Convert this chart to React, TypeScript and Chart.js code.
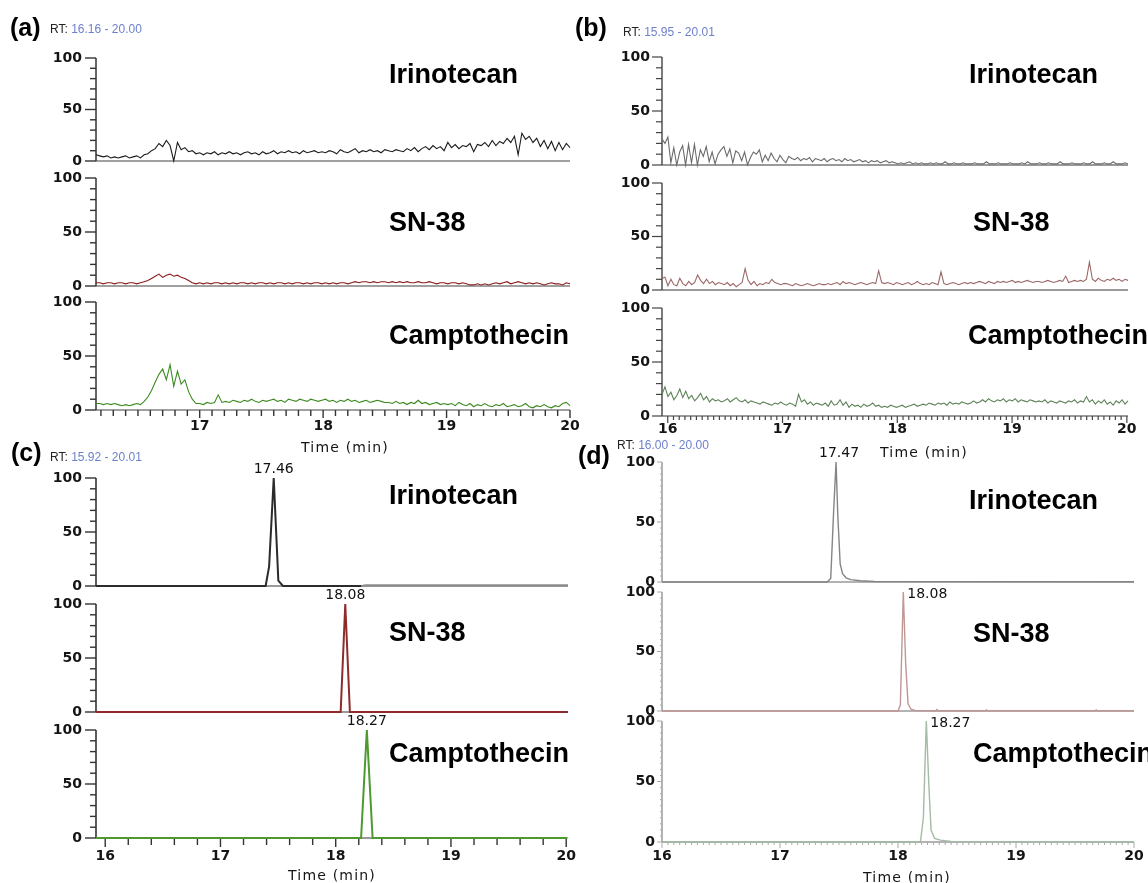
import React, { useEffect, useRef } from "react";
import { Chart, registerables } from "chart.js";
Chart.register(...registerables);

// ---------------- data ----------------
const COMPOUNDS = ["Irinotecan", "SN-38", "Camptothecin"];
const X_TICK_LABELS = [16, 17, 18, 19, 20];
const Y_TICK_LABELS = [0, 50, 100];

// (a) RT 16.16 - 20.00, evenly sampled
const A_IRI = [6,5,4,5,3,4,3,4,5,3,4,5,3,6, 7,10,12,17,14,20,15,0,18,11,13,9,10,7,
  8,6,8,7,9,6,8,7,9,7,8,6,8,9,7,8,6,9,7,8,10,7,9,8,10,8,9,7,10,8,9,10,8,9,8,10,9,7,11,9,8,
  10,12,8,10,9,11,9,10,8,11,10,9,11,10,9,12,10,13,9,12,14,11,15,12,14,10,
  18,13,16,12,15,14,17,9,16,15,18,14,20,15,19,17,22,18,24,6,27,21,24,18,22,14,20,12,19,10,18,11,17,13];
const A_SN38 = [3,3,2,3,3,2,3,3,2,3,3,2,3,4, 5,7,9,11,8,10,11,9,10,8,7,5,
  3,2,3,2,3,2,3,3,2,3,2,3,2,3,3,2,3,2,3,3,2,3,2,3,3,2,3,2,3,3,2,3,2,3,3,2,3,2,3,2,3,3,2,
  3,4,3,4,4,3,4,3,4,4,3,4,3,4,3,4,3,3,4,3,3,4, 3,2,3,3,2,3,3,2,3,2, 1,1,2,1,2,1,
  2,3,2,3,4,2,3,4,3,2,3,2,3,2,1,2,3,2,2,1,3,2];
const A_CPT = [6,6,5,6,5,6,5,4,5,4,5,6,5,
  8,12,18,26,33,38,28,42,22,36,24,28,17,10,6,6,5,7,6,7,14,7,
  8,7,9,8,7,9,8,10,8,7,9,8,9,10,8,9,7,10,9,8,10,9,8,10,9,8,9,10,8,9,7,9,8,10,8,9,7,8,9,7,8,9,8,7,
  7,6,8,6,7,5,7,6,9,6,7,5,6,7,5,6,
  5,6,4,7,5,4,6,3,5,4,6,4,3,5,4,6,3,4,5,3,4,6,3,2,4,3,5,3,2,4,3,6,7,4];

// (b) RT 15.95 - 20.01, evenly sampled
const B_IRI = [24,20,26,2,16,0,12,18,0,19,2,19,0,14,8,17,3,12,1,10,14,17,8,15,2,13,11,4,12,0,7,12,10,14,3,
  9,4,11,6,3,9,5,2,8,6,5,7,4,6,5,7,3,6,
  5,4,6,3,5,6,4,5,3,6,4,5,3,4,5,3,4,2,4,3,4,2,3,4,2,3,2,
  1,2,1,2,3,1,2,1,2,1,1,2,1,2,1,1,3,1,1,2,1,1,2,1,1,1,2,1,1,1,3,1,1,1,2,1,1,1,2,1,1,1,2,1,3,1,1,1,2,1,
  1,2,1,1,1,3,1,1,1,2,1,1,1,2,1,1,3,1,1,1,2,1,1,3,1,1,1,2,1];
const B_SN38 = [11,12,4,10,5,4,11,6,4,8,5,7,14,9,6,10,6,8,5,7,6,5,
  7,4,6,3,5,7,20,9,5,8,4,6,5,7,6,10,7,6,5,6,
  6,5,4,6,5,4,5,6,5,4,5,6,5,5,6,5,6,7,5,8,6,7,6,5,6,7,6,5,6,7,6,
  18,7,6,7,6,5,7,6,5,6,7,5,6,8,6,5,6,5,7,6,5,
  17,6,5,6,7,6,5,6,7,6,7,6,7,8,7,6,8,7,6,8,7,8,7,8,9,7,8,7,8,9,8,7,8,
  8,7,8,9,8,7,8,9,8,13,7,8,9,8,9,8,10,
  26,10,8,11,9,8,10,9,11,9,10,8,10,9];
const B_CPT = [20,27,18,22,15,19,25,17,23,16,19,14,17,21,15,18,13,16,14,15,13,14,
  16,13,15,17,14,13,15,12,14,13,12,11,13,12,11,10,12,11,13,11,
  10,12,11,9,20,13,15,11,13,10,12,11,10,12,9,14,10,11,15,10,13,8,11,9,10,8,11,9,10,12,9,
  10,8,9,8,10,9,8,9,10,8,9,10,11,9,10,11,10,12,11,10,12,
  11,12,10,13,11,12,11,13,12,11,12,14,12,13,15,13,16,14,13,15,14,16,13,15,14,16,13,15,14,13,15,14,13,
  14,13,15,12,14,13,12,14,13,12,14,13,15,12,14,13,18,
  13,15,11,14,12,15,11,13,10,14,12,15,11,14];

// (c) RT 15.92 - 20.01, peaks
const C_IRI_T = [15.92, 17.39, 17.42, 17.46, 17.50, 17.54, 18.22, 18.26, 20.01];
const C_IRI_V = [0, 0, 18, 100, 5, 0, 0, 0.7, 0.7];
const C_SN38_T = [15.92, 18.04, 18.08, 18.12, 20.01];
const C_SN38_V = [0, 0, 100, 0, 0];
const C_CPT_T = [15.92, 18.22, 18.27, 18.32, 20.01];
const C_CPT_V = [0, 0, 100, 0, 0];

// (d) RT 16.00 - 20.00, peaks
const D_IRI_T = [16.0, 17.40, 17.43, 17.455, 17.475, 17.49, 17.51, 17.53, 17.56, 17.60, 17.68, 17.80, 20.0];
const D_IRI_V = [0, 0, 3, 60, 100, 55, 15, 7, 3.5, 2, 1, 0.4, 0.2];
const D_SN38_T = [16.0, 18.0, 18.02, 18.045, 18.065, 18.085, 18.11, 18.15, 18.32, 18.33, 18.34, 18.74, 18.75, 18.76, 19.67, 19.68, 19.69, 20.0];
const D_SN38_V = [0, 0, 5, 100, 40, 6, 1.5, 0.3, 0.2, 1.2, 0.2, 0.2, 0.9, 0.2, 0.2, 0.9, 0.2, 0.2];
const D_CPT_T = [16.0, 18.19, 18.215, 18.24, 18.26, 18.28, 18.31, 18.36, 18.45, 20.0];
const D_CPT_V = [0, 0, 20, 100, 50, 10, 3, 1.5, 0.5, 0.2];

// ---------------- layout / style ----------------
const PANELS: any[] = [
  {
    letter: "(a)", rt: "16.16 - 20.00", xMin: 16.16, xMax: 20.0, left: 96, right: 570,
    rows: [[58, 161], [178, 286], [302, 410]],
    traces: [{ v: A_IRI }, { v: A_SN38 }, { v: A_CPT }],
    colors: ["#1c1c1c", "#8a1c1c", "#3b8a1f"], lw: 1.1,
    axisColor: "#333", axisWidth: 1.5, baseColor: "#a0a0a0", baseWidth: 2,
    tickColor: "#333", tickWidth: 1.4, yStep: 10, yMajor: 11, yMinor: 6,
    xStart: 16.2, xStep: 0.1, xMajor: 8, xMinor: 6, yPad: 14, xPad: 8,
    letterPos: [10, 27], rtPos: [50, 29],
    namePos: [[389, 74], [389, 222], [389, 335]], timePos: [345, 447],
    peaks: [null, null, null],
  },
  {
    letter: "(b)", rt: "15.95 - 20.01", xMin: 15.95, xMax: 20.01, left: 662, right: 1128,
    rows: [[57, 165], [183, 290], [308, 416]],
    traces: [{ v: B_IRI }, { v: B_SN38 }, { v: B_CPT }],
    colors: ["#6a6a6a", "#9b6666", "#5e8358"], lw: 1.1,
    axisColor: "#444", axisWidth: 1.4, baseColor: "#9a9a9a", baseWidth: 1.8,
    tickColor: "#444", tickWidth: 1.2, yStep: 10, yMajor: 10, yMinor: 6,
    xStart: 16.0, xStep: 0.05, xMajor: 7, xMinor: 4, yPad: 12, xPad: 5,
    letterPos: [575, 27], rtPos: [623, 32],
    namePos: [[969, 74], [973, 222], [968, 335]], timePos: [924, 452],
    peaks: [null, null, null],
  },
  {
    letter: "(c)", rt: "15.92 - 20.01", xMin: 15.92, xMax: 20.01, left: 96, right: 568,
    rows: [[478, 586], [604, 712], [730, 838]],
    traces: [{ t: C_IRI_T, v: C_IRI_V, tailFrom: 18.22, tailColor: "#8c8c8c" }, { t: C_SN38_T, v: C_SN38_V }, { t: C_CPT_T, v: C_CPT_V }],
    colors: ["#2b2b2b", "#8e2c2c", "#4e9a30"], lw: 2,
    axisColor: "#333", axisWidth: 1.6, baseColor: "#9a9a9a", baseWidth: 2,
    tickColor: "#333", tickWidth: 1.4, yStep: 10, yMajor: 11, yMinor: 6,
    xStart: 16.0, xStep: 0.2, xMajor: 9, xMinor: 7, yPad: 14, xPad: 10,
    letterPos: [11, 452], rtPos: [50, 457],
    namePos: [[389, 495], [389, 632], [389, 753]], timePos: [332, 875],
    peaks: [
      { text: "17.46", t: 17.46, align: "center", dx: 0, dy: -9 },
      { text: "18.08", t: 18.08, align: "center", dx: 0, dy: -9 },
      { text: "18.27", t: 18.27, align: "center", dx: 0, dy: -9 },
    ],
  },
  {
    letter: "(d)", rt: "16.00 - 20.00", xMin: 16.0, xMax: 20.0, left: 662, right: 1134,
    rows: [[462, 582], [592, 711], [721, 842]],
    traces: [{ t: D_IRI_T, v: D_IRI_V }, { t: D_SN38_T, v: D_SN38_V }, { t: D_CPT_T, v: D_CPT_V }],
    colors: ["#858585", "#c09696", "#a4bba4"], lw: 1.4,
    axisColor: "#9a9a9a", axisWidth: 1.5, baseColor: "#9a9a9a", baseWidth: 1.6,
    tickColor: "#aaa", tickWidth: 1, yStep: 5, yMajor: 5, yMinor: 2,
    xStart: 16.0, xStep: 0.05, xMajor: 6, xMinor: 3, yPad: 7, xPad: 6,
    letterPos: [578, 455], rtPos: [617, 445],
    namePos: [[969, 500], [973, 633], [973, 753]], timePos: [907, 877],
    peaks: [
      { text: "17.47", t: 17.475, align: "center", dx: 3, dy: -9 },
      { text: "18.08", t: 18.045, align: "left", dx: 4, dy: 2 },
      { text: "18.27", t: 18.24, align: "left", dx: 4, dy: 2 },
    ],
  },
];

const TICK_FONT = { family: "'DejaVu Sans', sans-serif", size: 14, weight: "bold" };
const BOLD = "'Liberation Sans', Arial, sans-serif";

function toPoints(tr: any, p: any) {
  if (tr.t) return tr.t.map((x: number, i: number) => ({ x, y: tr.v[i] }));
  const n = tr.v.length;
  return tr.v.map((y: number, i: number) => ({ x: p.xMin + ((p.xMax - p.xMin) * i) / (n - 1), y }));
}

function decoPlugin(p: any, row: number, isBottom: boolean) {
  return {
    id: "deco" + row,
    beforeDatasetsDraw(chart: any) {
      const { ctx, chartArea: ca } = chart;
      const xs = chart.scales.x;
      const ys = chart.scales.y;
      const y0 = ys.getPixelForValue(0);
      const y100 = ys.getPixelForValue(100);
      ctx.save();
      ctx.lineCap = "butt";
      ctx.strokeStyle = p.baseColor;
      ctx.lineWidth = p.baseWidth;
      ctx.beginPath();
      ctx.moveTo(ca.left, y0);
      ctx.lineTo(ca.right, y0);
      ctx.stroke();
      ctx.strokeStyle = p.axisColor;
      ctx.lineWidth = p.axisWidth;
      ctx.beginPath();
      ctx.moveTo(ca.left, y100);
      ctx.lineTo(ca.left, y0);
      ctx.stroke();
      ctx.strokeStyle = p.tickColor;
      ctx.lineWidth = p.tickWidth;
      const ny = Math.round(100 / p.yStep);
      for (let k = 0; k <= ny; k++) {
        const v = k * p.yStep;
        const len = v % 50 === 0 ? p.yMajor : p.yMinor;
        const py = ys.getPixelForValue(v);
        ctx.beginPath();
        ctx.moveTo(ca.left - len, py);
        ctx.lineTo(ca.left, py);
        ctx.stroke();
      }
      if (isBottom) {
        for (let k = 0; ; k++) {
          const v = p.xStart + k * p.xStep;
          if (v > p.xMax + 1e-9) break;
          const major = Math.abs(v - Math.round(v)) < 1e-6;
          const len = major ? p.xMajor : p.xMinor;
          const px = xs.getPixelForValue(v);
          ctx.beginPath();
          ctx.moveTo(px, y0);
          ctx.lineTo(px, y0 + len);
          ctx.stroke();
        }
      }
      ctx.restore();
    },
    afterDatasetsDraw(chart: any) {
      const pk = p.peaks[row];
      if (!pk) return;
      const { ctx } = chart;
      const px = chart.scales.x.getPixelForValue(pk.t) + pk.dx;
      const py = chart.scales.y.getPixelForValue(100) + pk.dy;
      ctx.save();
      ctx.font = "14px 'DejaVu Sans', sans-serif";
      ctx.fillStyle = "#111";
      ctx.textAlign = pk.align;
      ctx.textBaseline = "middle";
      ctx.fillText(pk.text, px, py);
      ctx.restore();
    },
  };
}

const PT = 30, PR = 18, YW = 60;

function SubPlot({ p, row }: { p: any; row: number }) {
  const ref = useRef<HTMLCanvasElement>(null);
  const isBottom = row === 2;
  const [top, bottom] = p.rows[row];
  const XH = isBottom ? 44 : 0;
  const PB = isBottom ? 0 : 9 + p.yPad + 3;
  const w = YW + (p.right - p.left) + PR;
  const h = PT + (bottom - top) + XH + PB;
  useEffect(() => {
    const tr = p.traces[row];
    const baseColor = p.colors[row];
    const chart = new Chart(ref.current as HTMLCanvasElement, {
      type: "line",
      data: {
        datasets: [{
          data: toPoints(tr, p),
          borderColor: baseColor,
          borderWidth: p.lw,
          pointRadius: 0,
          tension: 0,
          fill: false,
          clip: false as any,
          segment: tr.tailFrom !== undefined
            ? { borderColor: (c: any) => (c.p0.parsed.x >= tr.tailFrom ? tr.tailColor : baseColor) }
            : undefined,
        }],
      },
      options: {
        animation: false,
        responsive: false,
        devicePixelRatio: 1,
        events: [],
        layout: { padding: { top: PT, right: PR, left: 0, bottom: PB } },
        plugins: { legend: { display: false }, tooltip: { enabled: false }, title: { display: false } },
        scales: {
          x: {
            type: "linear", min: p.xMin, max: p.xMax, display: isBottom,
            grid: { display: false, drawTicks: false }, border: { display: false },
            ticks: { font: TICK_FONT, color: "#151515", padding: p.xPad, autoSkip: false, maxRotation: 0 },
            afterBuildTicks: (s: any) => {
              s.ticks = X_TICK_LABELS.filter((v) => v >= p.xMin - 1e-9 && v <= p.xMax + 1e-9).map((v) => ({ value: v }));
            },
            afterFit: (s: any) => { s.height = XH; },
          },
          y: {
            type: "linear", min: 0, max: 100,
            grid: { display: false, drawTicks: false }, border: { display: false },
            ticks: { font: TICK_FONT, color: "#151515", padding: p.yPad, autoSkip: false },
            afterBuildTicks: (s: any) => { s.ticks = Y_TICK_LABELS.map((v) => ({ value: v })); },
            afterFit: (s: any) => { s.width = YW; },
          },
        },
      } as any,
      plugins: [decoPlugin(p, row, isBottom)],
    });
    return () => chart.destroy();
  }, []);
  return (
    <canvas
      ref={ref}
      width={w}
      height={h}
      style={{ position: "absolute", left: p.left - YW, top: top - PT, width: w, height: h }}
    />
  );
}

function Txt({ x, y, children, style }: any) {
  return (
    <div style={{ position: "absolute", left: x, top: y, transform: "translateY(-50%)", lineHeight: 1, whiteSpace: "nowrap", ...style }}>
      {children}
    </div>
  );
}

export default function App() {
  return (
    <div style={{ position: "absolute", left: 0, top: 0, width: 1148, height: 883, overflow: "hidden", background: "#fff" }}>
      {PANELS.map((p, pi) => [0, 1, 2].map((r) => <SubPlot key={pi + "-" + r} p={p} row={r} />))}
      {PANELS.map((p, pi) => (
        <React.Fragment key={"t" + pi}>
          <Txt x={p.letterPos[0]} y={p.letterPos[1]} style={{ fontFamily: BOLD, fontWeight: 700, fontSize: 25, color: "#000" }}>{p.letter}</Txt>
          <Txt x={p.rtPos[0]} y={p.rtPos[1]} style={{ fontFamily: BOLD, fontSize: 12, color: "#222" }}>
            RT: <span style={{ color: "#6d80cc" }}>{p.rt}</span>
          </Txt>
          {COMPOUNDS.map((c, ci) => (
            <Txt key={c} x={p.namePos[ci][0]} y={p.namePos[ci][1]} style={{ fontFamily: BOLD, fontWeight: 700, fontSize: 27, color: "#000" }}>{c}</Txt>
          ))}
          <Txt x={p.timePos[0]} y={p.timePos[1]} style={{ fontFamily: "'DejaVu Sans', sans-serif", fontSize: 14, letterSpacing: 1.2, color: "#151515", transform: "translate(-50%, -50%)" }}>Time (min)</Txt>
        </React.Fragment>
      ))}
    </div>
  );
}
